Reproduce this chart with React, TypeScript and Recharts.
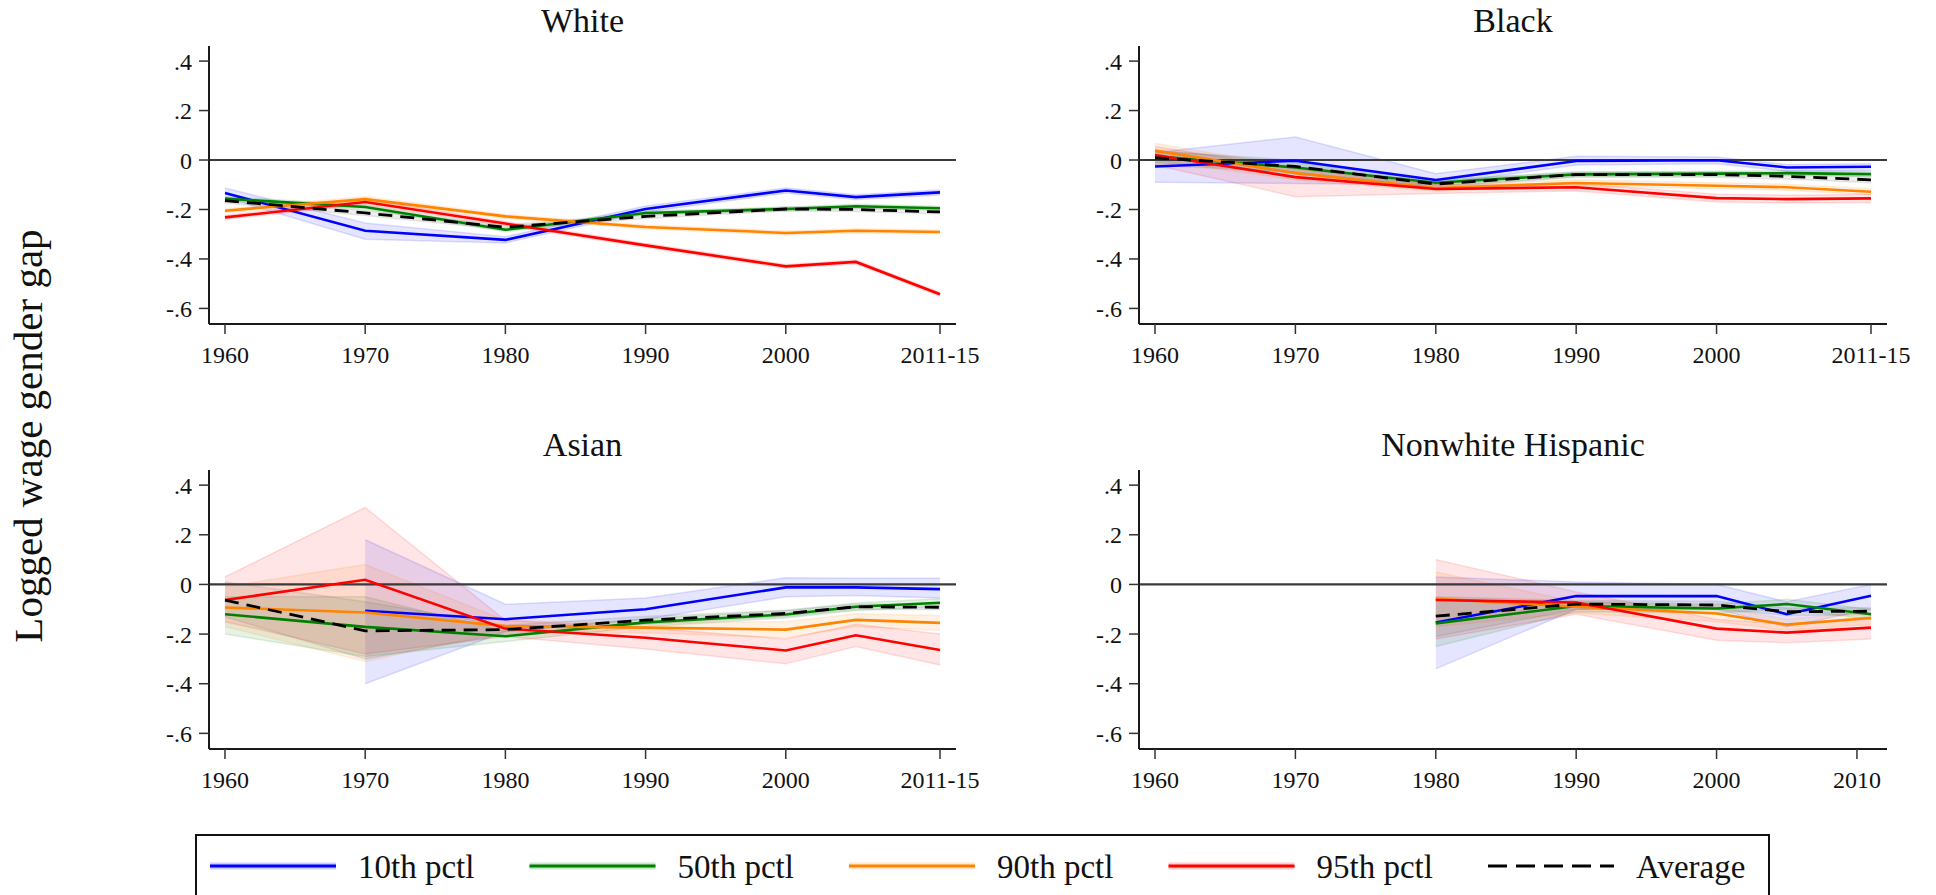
import React from 'react';
import { ComposedChart, Line, Area, XAxis, YAxis, ReferenceLine } from 'recharts';

// ---------- data ----------
const yearsFull = [1960, 1970, 1980, 1990, 2000, 2005, 2011];
const yearsHisp = [1980, 1990, 2000, 2005, 2011];
const ticksMain = [1960, 1970, 1980, 1990, 2000, 2011];
const ticksHisp = [1960, 1970, 1980, 1990, 2000, 2010];
const yTicks = [0.4, 0.2, 0, -0.2, -0.4, -0.6];
const seriesNames = ['10th pctl', '50th pctl', '90th pctl', '95th pctl', 'Average'];

// White
const whiteP10 = [-0.133, -0.286, -0.323, -0.198, -0.123, -0.15, -0.131];
const whiteP10Lo = [-0.152, -0.32, -0.335, -0.21, -0.133, -0.16, -0.141];
const whiteP10Hi = [-0.113, -0.255, -0.31, -0.186, -0.113, -0.14, -0.121];
const whiteP50 = [-0.156, -0.19, -0.282, -0.214, -0.198, -0.187, -0.195];
const whiteP50Lo = [-0.164, -0.198, -0.29, -0.222, -0.206, -0.195, -0.203];
const whiteP50Hi = [-0.148, -0.182, -0.274, -0.206, -0.19, -0.179, -0.187];
const whiteP90 = [-0.205, -0.158, -0.228, -0.271, -0.295, -0.286, -0.291];
const whiteP90Lo = [-0.213, -0.168, -0.236, -0.279, -0.303, -0.294, -0.299];
const whiteP90Hi = [-0.197, -0.148, -0.22, -0.263, -0.287, -0.278, -0.283];
const whiteP95 = [-0.232, -0.17, -0.257, -0.345, -0.43, -0.412, -0.543];
const whiteP95Lo = [-0.24, -0.18, -0.265, -0.353, -0.438, -0.42, -0.551];
const whiteP95Hi = [-0.224, -0.16, -0.249, -0.337, -0.422, -0.404, -0.535];
const whiteAvg = [-0.164, -0.214, -0.272, -0.228, -0.198, -0.2, -0.21];
const whiteAvgLo = [-0.174, -0.224, -0.282, -0.236, -0.206, -0.208, -0.218];
const whiteAvgHi = [-0.154, -0.204, -0.262, -0.22, -0.19, -0.192, -0.202];

// Black
const blackP10 = [-0.026, -0.003, -0.081, -0.004, -0.001, -0.03, -0.027];
const blackP10Lo = [-0.09, -0.095, -0.1, -0.02, -0.015, -0.045, -0.042];
const blackP10Hi = [0.03, 0.093, -0.055, 0.015, 0.012, -0.018, -0.015];
const blackP50 = [0.015, -0.03, -0.092, -0.058, -0.055, -0.053, -0.057];
const blackP50Lo = [-0.01, -0.05, -0.104, -0.068, -0.065, -0.063, -0.067];
const blackP50Hi = [0.04, -0.01, -0.08, -0.048, -0.045, -0.043, -0.047];
const blackP90 = [0.038, -0.053, -0.113, -0.093, -0.104, -0.11, -0.128];
const blackP90Lo = [0.0, -0.08, -0.125, -0.105, -0.116, -0.122, -0.14];
const blackP90Hi = [0.068, -0.03, -0.1, -0.08, -0.092, -0.098, -0.116];
const blackP95 = [0.02, -0.069, -0.117, -0.11, -0.154, -0.158, -0.155];
const blackP95Lo = [-0.02, -0.148, -0.135, -0.125, -0.17, -0.174, -0.172];
const blackP95Hi = [0.055, -0.035, -0.1, -0.095, -0.138, -0.142, -0.138];
const blackAvg = [0.009, -0.026, -0.097, -0.059, -0.059, -0.066, -0.08];
const blackAvgLo = [-0.02, -0.05, -0.11, -0.07, -0.07, -0.077, -0.092];
const blackAvgHi = [0.035, 0.0, -0.085, -0.048, -0.048, -0.055, -0.068];

// Asian
const asianP10 = [null, -0.106, -0.14, -0.1, -0.012, -0.012, -0.019];
const asianP10Lo = [null, -0.4, -0.19, -0.14, -0.05, -0.045, -0.055];
const asianP10Hi = [null, 0.18, -0.08, -0.055, 0.027, 0.025, 0.025];
const asianP50 = [-0.12, -0.171, -0.209, -0.153, -0.121, -0.09, -0.074];
const asianP50Lo = [-0.2, -0.29, -0.23, -0.17, -0.135, -0.105, -0.09];
const asianP50Hi = [-0.05, -0.05, -0.19, -0.137, -0.105, -0.075, -0.058];
const asianP90 = [-0.093, -0.113, -0.168, -0.174, -0.182, -0.143, -0.155];
const asianP90Lo = [-0.17, -0.31, -0.19, -0.195, -0.215, -0.17, -0.185];
const asianP90Hi = [-0.01, 0.08, -0.145, -0.155, -0.15, -0.118, -0.125];
const asianP95 = [-0.063, 0.019, -0.178, -0.215, -0.266, -0.205, -0.264];
const asianP95Lo = [-0.15, -0.28, -0.21, -0.26, -0.32, -0.25, -0.325];
const asianP95Hi = [0.03, 0.31, -0.145, -0.175, -0.22, -0.16, -0.2];
const asianAvg = [-0.063, -0.187, -0.182, -0.144, -0.117, -0.09, -0.092];
const asianAvgLo = [-0.13, -0.3, -0.2, -0.16, -0.13, -0.1, -0.102];
const asianAvgHi = [0.01, -0.07, -0.165, -0.128, -0.104, -0.08, -0.082];

// Nonwhite Hispanic
const hispP10 = [-0.153, -0.047, -0.047, -0.12, -0.046];
const hispP10Lo = [-0.34, -0.1, -0.1, -0.17, -0.1];
const hispP10Hi = [0.03, 0.01, 0.0, -0.07, 0.0];
const hispP50 = [-0.157, -0.087, -0.097, -0.079, -0.12];
const hispP50Lo = [-0.25, -0.11, -0.115, -0.1, -0.14];
const hispP50Hi = [-0.06, -0.07, -0.08, -0.06, -0.1];
const hispP90 = [-0.057, -0.09, -0.117, -0.162, -0.135];
const hispP90Lo = [-0.17, -0.115, -0.15, -0.185, -0.16];
const hispP90Hi = [0.05, -0.07, -0.09, -0.14, -0.11];
const hispP95 = [-0.063, -0.073, -0.178, -0.194, -0.174];
const hispP95Lo = [-0.22, -0.12, -0.225, -0.235, -0.22];
const hispP95Hi = [0.1, -0.03, -0.14, -0.16, -0.13];
const hispAvg = [-0.128, -0.079, -0.083, -0.11, -0.108];
const hispAvgLo = [-0.21, -0.1, -0.1, -0.125, -0.122];
const hispAvgHi = [-0.05, -0.065, -0.068, -0.095, -0.094];

// ---------- styling ----------
const COLORS = ['#0000ff', '#008000', '#ff8400', '#ff0000', '#000000'];
const KEYS = ['p10', 'p50', 'p90', 'p95', 'avg'];
const FONT = '"Liberation Serif", "Times New Roman", serif';
const X_DOMAIN: [number, number] = [1958.86, 2012.14];
const Y_DOMAIN: [number, number] = [-0.663, 0.461];

type Arr = (number | null)[];
function buildRows(years: number[], vals: Arr[], los: Arr[], his: Arr[]) {
  return years.map((year, i) => {
    const row: any = { year };
    KEYS.forEach((k, s) => {
      row[k] = vals[s][i];
      const lo = los[s][i];
      const hi = his[s][i];
      row[k + 'Band'] = lo == null || hi == null ? null : [lo, hi];
    });
    return row;
  });
}

const whiteRows = buildRows(
  yearsFull,
  [whiteP10, whiteP50, whiteP90, whiteP95, whiteAvg],
  [whiteP10Lo, whiteP50Lo, whiteP90Lo, whiteP95Lo, whiteAvgLo],
  [whiteP10Hi, whiteP50Hi, whiteP90Hi, whiteP95Hi, whiteAvgHi]
);
const blackRows = buildRows(
  yearsFull,
  [blackP10, blackP50, blackP90, blackP95, blackAvg],
  [blackP10Lo, blackP50Lo, blackP90Lo, blackP95Lo, blackAvgLo],
  [blackP10Hi, blackP50Hi, blackP90Hi, blackP95Hi, blackAvgHi]
);
const asianRows = buildRows(
  yearsFull,
  [asianP10, asianP50, asianP90, asianP95, asianAvg],
  [asianP10Lo, asianP50Lo, asianP90Lo, asianP95Lo, asianAvgLo],
  [asianP10Hi, asianP50Hi, asianP90Hi, asianP95Hi, asianAvgHi]
);
const hispRows = buildRows(
  yearsHisp,
  [hispP10, hispP50, hispP90, hispP95, hispAvg],
  [hispP10Lo, hispP50Lo, hispP90Lo, hispP95Lo, hispAvgLo],
  [hispP10Hi, hispP50Hi, hispP90Hi, hispP95Hi, hispAvgHi]
);

const fmtY = (v: number) => {
  if (Math.abs(v) < 1e-9) return '0';
  const s = Math.abs(v).toFixed(1).replace(/^0/, '');
  return (v < 0 ? '-' : '') + s;
};
const fmtXMain = (v: number) => (v === 2011 ? '2011-15' : String(v));
const fmtXHisp = (v: number) => String(v);

const Y_AXIS_W = 60;
const X_AXIS_H = 60;
const RIGHT_PAD = 50;

interface PanelProps {
  title: string;
  rows: any[];
  left: number;
  top: number;
  w: number;
  h: number;
  xTicks: number[];
  xFmt: (v: number) => string;
}

function Panel({ title, rows, left, top, w, h, xTicks, xFmt }: PanelProps) {
  const tickStyle = { fontFamily: FONT, fontSize: 24, fill: '#111' };
  return (
    <>
      <div
        style={{
          position: 'absolute',
          left: left,
          width: w,
          top: top - 47,
          textAlign: 'center',
          fontFamily: FONT,
          fontSize: 34,
          lineHeight: '44px',
          color: '#111',
          whiteSpace: 'nowrap',
        }}
      >
        {title}
      </div>
      <div style={{ position: 'absolute', left: left - Y_AXIS_W, top: top, fontFamily: FONT }}>
        <ComposedChart
          width={w + Y_AXIS_W + RIGHT_PAD}
          height={h + X_AXIS_H}
          data={rows}
          margin={{ top: 0, right: RIGHT_PAD, bottom: 0, left: 0 }}
        >
          <XAxis
            dataKey="year"
            type="number"
            domain={X_DOMAIN}
            allowDataOverflow
            ticks={xTicks}
            tickFormatter={xFmt}
            interval={0}
            height={X_AXIS_H}
            tickSize={10}
            tickMargin={12}
            tick={tickStyle}
            axisLine={{ stroke: '#1a1a1a', strokeWidth: 2 }}
            tickLine={{ stroke: '#333', strokeWidth: 1.5 }}
          />
          <XAxis
            xAxisId="top"
            orientation="top"
            dataKey="year"
            type="number"
            domain={X_DOMAIN}
            allowDataOverflow
            height={0}
            tick={false}
            tickLine={false}
            axisLine={{ stroke: '#1a1a1a', strokeWidth: 2 }}
          />
          <YAxis
            type="number"
            domain={Y_DOMAIN}
            allowDataOverflow
            ticks={yTicks}
            tickFormatter={fmtY}
            interval={0}
            width={Y_AXIS_W}
            tickSize={10}
            tickMargin={7}
            tick={tickStyle}
            axisLine={{ stroke: '#1a1a1a', strokeWidth: 2 }}
            tickLine={{ stroke: '#333', strokeWidth: 1.5 }}
          />
          <YAxis
            yAxisId="right"
            orientation="right"
            type="number"
            domain={Y_DOMAIN}
            allowDataOverflow
            width={0}
            tick={false}
            tickLine={false}
            axisLine={{ stroke: '#1a1a1a', strokeWidth: 2 }}
          />
          {KEYS.map((k, i) => (
            <Area
              key={k + 'Band'}
              dataKey={k + 'Band'}
              type="linear"
              fill={i === 4 ? '#555555' : COLORS[i]}
              fillOpacity={0.1}
              stroke={i === 4 ? '#555555' : COLORS[i]}
              strokeOpacity={0.12}
              strokeWidth={1.5}
              isAnimationActive={false}
              activeDot={false}
              dot={false}
              connectNulls={false}
            />
          ))}
          <ReferenceLine y={0} stroke="#3a3a3a" strokeWidth={2.2} ifOverflow="extendDomain" />
          {KEYS.map((k, i) => (
            <Line
              key={k}
              dataKey={k}
              name={seriesNames[i]}
              type="linear"
              stroke={COLORS[i]}
              strokeWidth={i === 4 ? 2.8 : 2.6}
              strokeDasharray={i === 4 ? '14 8' : undefined}
              dot={false}
              activeDot={false}
              isAnimationActive={false}
              connectNulls={false}
            />
          ))}
        </ComposedChart>
      </div>
    </>
  );
}

function LegendBox() {
  const x0 = 210;
  const step = 319.5;
  const lineLen = 126;
  const ly = 866;
  return (
    <svg
      width={1936}
      height={895}
      style={{ position: 'absolute', left: 0, top: 0, pointerEvents: 'none', fontFamily: FONT }}
    >
      <rect x={196} y={835} width={1573} height={100} fill="none" stroke="#111" strokeWidth={2} />
      {seriesNames.map((name, i) => {
        const x = x0 + i * step;
        return (
          <g key={name}>
            {i < 4 && (
              <line x1={x} x2={x + lineLen} y1={ly} y2={ly} stroke={COLORS[i]} strokeOpacity={0.2} strokeWidth={7} />
            )}
            <line
              x1={x}
              x2={x + lineLen}
              y1={ly}
              y2={ly}
              stroke={COLORS[i]}
              strokeWidth={3}
              strokeDasharray={i === 4 ? '19 9' : undefined}
            />
            <text x={x + lineLen + 22} y={878} fontFamily={FONT} fontSize={33} fill="#111">
              {name}
            </text>
          </g>
        );
      })}
      <text
        transform="translate(42, 436) rotate(-90)"
        textAnchor="middle"
        fontFamily={FONT}
        fontSize={41}
        fill="#111"
      >
        Logged wage gender gap
      </text>
    </svg>
  );
}

export default function App() {
  return (
    <div
      style={{
        position: 'absolute',
        left: 0,
        top: 0,
        width: 1936,
        height: 895,
        background: '#fff',
        overflow: 'hidden',
        fontFamily: FONT,
      }}
    >
      <Panel title="White" rows={whiteRows} left={209} top={46} w={747} h={278} xTicks={ticksMain} xFmt={fmtXMain} />
      <Panel title="Black" rows={blackRows} left={1139} top={46} w={748} h={278} xTicks={ticksMain} xFmt={fmtXMain} />
      <Panel title="Asian" rows={asianRows} left={209} top={470} w={747} h={279} xTicks={ticksMain} xFmt={fmtXMain} />
      <Panel
        title="Nonwhite Hispanic"
        rows={hispRows}
        left={1139}
        top={470}
        w={748}
        h={279}
        xTicks={ticksHisp}
        xFmt={fmtXHisp}
      />
      <LegendBox />
    </div>
  );
}
